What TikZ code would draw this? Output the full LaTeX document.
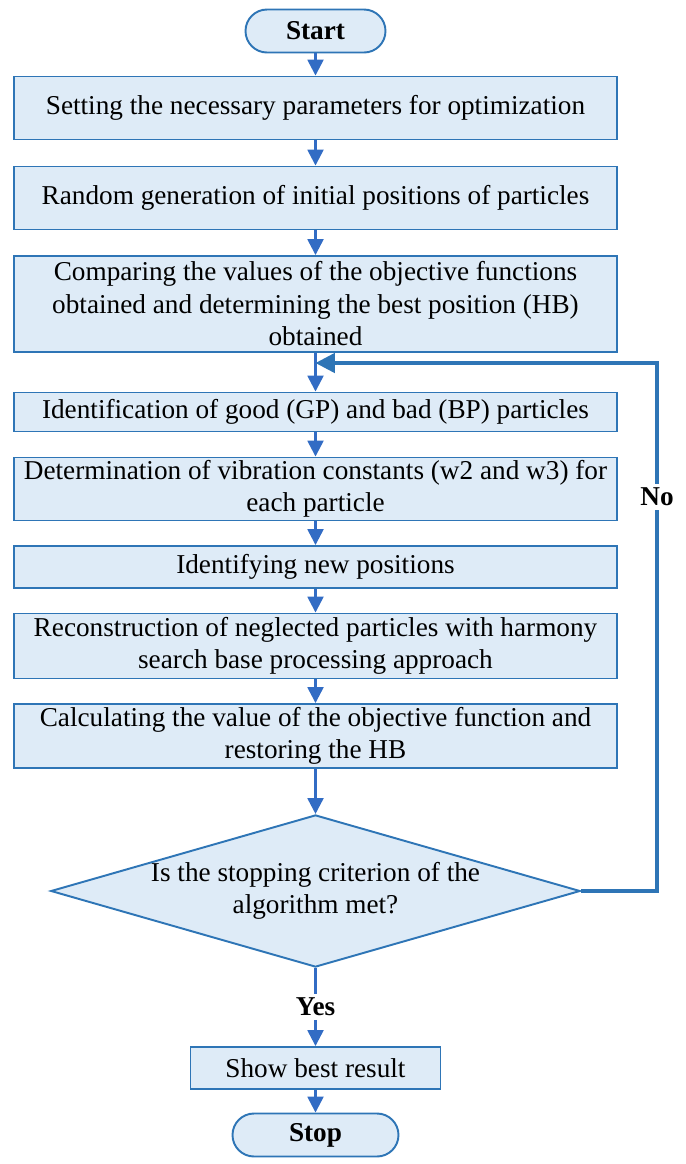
\documentclass[tikz,border=0pt]{standalone}
\usepackage{fontspec}
\setmainfont{Liberation Serif}
\usepackage{xcolor}
\usepackage{tikz}
\usetikzlibrary{positioning,arrows.meta,shapes.geometric}
\definecolor{boxblue}{RGB}{46,117,182}
\definecolor{boxfill}{RGB}{222,235,247}
\definecolor{arrowblue}{RGB}{50,108,196}

\begin{document}
\begin{tikzpicture}[
  stepbox/.style={rectangle, draw=boxblue, fill=boxfill, line width=1.1pt,
    minimum width=12.06cm, align=center, inner sep=1pt,
    font=\fontsize{15.5}{18.5}\selectfont},
  term/.style={rectangle, rounded corners=0.43cm, draw=boxblue, fill=boxfill,
    line width=1.1pt, minimum width=2.8cm, minimum height=0.86cm,
    font=\fontsize{15.5}{18.5}\selectfont\bfseries},
  decision/.style={diamond, aspect=3.48, draw=boxblue, fill=boxfill,
    line width=1.1pt, inner sep=0pt, minimum width=10.5cm, minimum height=3.02cm,
    align=center, font=\fontsize{15.5}{18.5}\selectfont},
  flow/.style={arrowblue, line width=1.4pt, -{Triangle[width=9pt,length=9pt]}},
  loopback/.style={boxblue, line width=2pt, -{Triangle[width=11pt,length=11pt]}},
  answer/.style={font=\fontsize{15.5}{18.5}\selectfont\bfseries, inner sep=2pt},
]
  \useasboundingbox (0,0) rectangle (13.72,-23.28);

  % Terminals
  \node[term] (start) at (6.31,-0.62) {Start};
  \node[term, minimum width=3.32cm] (stop) at (6.31,-22.7) {Stop};

  % Steps
  \node[stepbox, minimum height=1.26cm] (set) at (6.31,-2.16)
    {Setting the necessary parameters for optimization};
  \node[stepbox, minimum height=1.26cm] (init) at (6.31,-3.96)
    {Random generation of initial positions of particles};
  \node[stepbox, minimum height=1.92cm] (best) at (6.31,-6.08)
    {Comparing the values of the objective functions\\
     obtained and determining the best position (HB)\\
     obtained};
  \node[stepbox, minimum height=0.78cm] (ident) at (6.31,-8.24)
    {Identification of good (GP) and bad (BP) particles};
  \node[stepbox, minimum height=1.26cm] (vib) at (6.31,-9.78)
    {Determination of vibration constants (w2 and w3) for\\
     each particle};
  \node[stepbox, minimum height=0.84cm] (newpos) at (6.31,-11.34)
    {Identifying new positions};
  \node[stepbox, minimum height=1.3cm] (recon) at (6.31,-12.92)
    {Reconstruction of neglected particles with harmony\\
     search base processing approach};
  \node[stepbox, minimum height=1.28cm] (calc) at (6.31,-14.72)
    {Calculating the value of the objective function and\\
     restoring the HB};

  % Decision
  \node[decision] (crit) at (6.31,-17.82)
    {Is the stopping criterion of the\\ algorithm met?};
  \node[answer] (yes) at (6.31,-20.14) {Yes};
  \node[stepbox, minimum width=5cm, minimum height=0.84cm] (show) at (6.31,-21.36)
    {Show best result};

  % Main flow
  \draw[flow] (start) -- (set);
  \draw[flow] (set) -- (init);
  \draw[flow] (init) -- (best);
  \draw[flow] (best) -- (ident);
  \draw[flow] (ident) -- (vib);
  \draw[flow] (vib) -- (newpos);
  \draw[flow] (newpos) -- (recon);
  \draw[flow] (recon) -- (calc);
  \draw[flow] (calc) -- (crit);
  \draw[arrowblue, line width=1.4pt] (crit) -- (yes);
  \draw[flow] (yes) -- (show);
  \draw[flow] (show) -- (stop);

  % Loop back
  \coordinate (back) at (13.14,-7.26);
  \coordinate (join) at (6.31,-7.26);
  \draw[loopback] (crit.east) -| (back) -- (join);
  \node[answer, fill=white] (no) at (13.14,-9.94) {No};
\end{tikzpicture}
\end{document}
